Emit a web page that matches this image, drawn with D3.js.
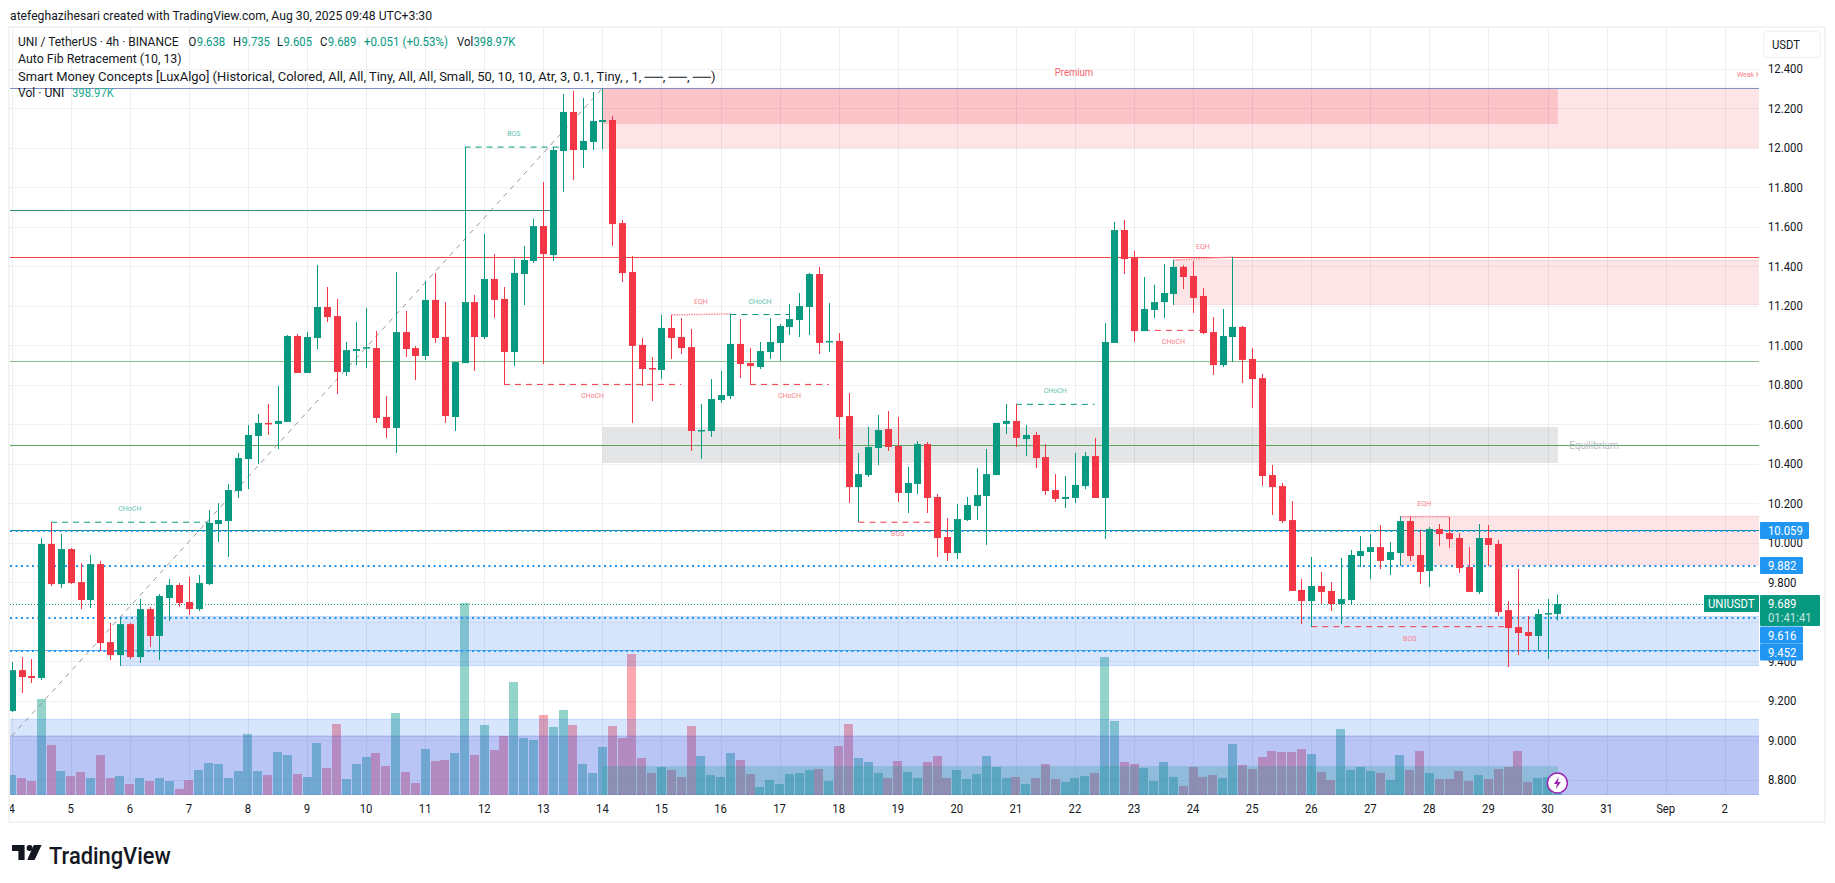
<!DOCTYPE html>
<html>
<head>
<meta charset="utf-8">
<title>UNI / TetherUS 4h</title>
<script src="https://cdnjs.cloudflare.com/ajax/libs/d3/7.8.5/d3.min.js"></script>
<style>
html,body{margin:0;padding:0;background:#fff;overflow:hidden}
svg{display:block}
text{font-family:Roboto,"Noto Sans",sans-serif;fill:#131722}
</style>
</head>
<body>
<script>
// 4h candles, oldest first (4 Aug 00:00 is index 0; six bars per day)
const opens=[9.147,9.354,9.324,9.314,9.993,9.790,9.967,9.800,9.709,9.891,
9.496,9.430,9.587,9.420,9.663,9.527,9.719,9.785,9.699,9.663,
9.790,10.094,10.109,10.261,10.423,10.540,10.606,10.601,10.611,11.046,
10.859,11.036,11.193,11.147,10.864,10.970,10.985,10.985,10.636,10.580,
11.066,10.985,10.945,11.229,11.041,10.636,10.909,11.218,11.041,11.335,
11.234,10.965,11.360,11.426,11.603,11.456,11.983,12.181,11.988,12.029,
12.130,12.140,11.618,11.370,11.001,10.884,10.874,11.087,11.041,10.990,
10.565,10.565,10.722,10.742,11.006,10.909,10.889,10.965,11.011,11.092,
11.127,11.193,11.360,11.016,11.021,10.641,10.281,10.342,10.479,10.575,
10.489,10.251,10.297,10.499,10.231,10.028,9.947,10.114,10.185,10.236,
10.342,10.601,10.616,10.524,10.545,10.433,10.266,10.221,10.226,10.286,
10.438,10.226,11.011,11.583,11.441,11.071,11.178,11.218,11.259,11.396,
11.350,11.249,11.066,10.899,11.041,11.092,10.930,10.833,10.342,10.286,
10.114,9.760,9.704,9.780,9.755,9.689,9.709,9.932,9.952,9.977,
9.912,9.947,10.109,9.937,9.856,10.069,10.048,10.023,9.876,9.750,
10.023,9.993,9.658,9.572,9.547,9.527,9.638,9.638];
const highs=[9.395,9.420,9.410,10.023,10.104,10.043,9.972,9.896,9.937,9.907,
9.593,9.618,9.593,9.714,9.674,9.739,9.815,9.795,9.826,9.836,
10.165,10.200,10.297,10.454,10.595,10.651,10.702,10.793,11.051,11.056,
11.066,11.406,11.294,11.234,11.016,11.117,11.188,11.071,10.742,11.370,
11.173,10.995,11.325,11.365,11.218,10.914,12.003,11.254,11.563,11.461,
11.294,11.436,11.502,11.639,11.826,12.003,12.272,12.287,12.252,12.282,
12.302,12.160,11.634,11.451,11.036,10.940,11.153,11.153,11.137,11.082,
10.702,10.828,10.869,11.158,11.132,10.985,11.016,11.137,11.107,11.208,
11.264,11.365,11.396,11.213,11.061,10.757,10.454,10.585,10.646,10.666,
10.636,10.383,10.514,10.509,10.246,10.124,10.195,10.231,10.378,10.474,
10.606,10.702,10.702,10.595,10.560,10.499,10.347,10.337,10.454,10.459,
10.530,11.112,11.624,11.634,11.477,11.345,11.305,11.411,11.431,11.406,
11.426,11.289,11.142,11.183,11.446,11.097,10.985,10.854,10.393,10.302,
10.210,9.815,9.927,9.851,9.800,9.922,9.962,10.033,10.043,10.089,
10.003,10.134,10.134,10.064,10.079,10.094,10.129,10.048,9.977,10.094,
10.089,10.013,9.704,9.866,9.628,9.663,9.714,9.735];
const lows=[9.142,9.238,9.289,9.304,9.780,9.770,9.790,9.663,9.668,9.451,
9.405,9.375,9.410,9.390,9.471,9.405,9.603,9.674,9.633,9.653,
9.785,10.003,9.927,10.226,10.271,10.398,10.545,10.474,10.611,10.859,
10.859,10.980,11.117,10.752,10.844,10.899,10.884,10.606,10.530,10.454,
10.940,10.823,10.925,11.011,10.606,10.565,10.909,10.869,11.031,11.137,
10.803,10.894,11.203,11.416,10.904,11.426,11.776,11.836,11.897,11.988,
11.993,11.502,11.320,10.606,10.793,10.717,10.828,10.930,10.955,10.464,
10.423,10.535,10.707,10.727,10.833,10.798,10.879,10.930,10.920,11.051,
11.041,11.051,10.955,10.965,10.524,10.200,10.104,10.332,10.393,10.464,
10.205,10.150,10.246,10.150,9.927,9.907,9.917,10.109,10.114,9.988,
10.342,10.550,10.484,10.438,10.378,10.241,10.205,10.175,10.200,10.271,
10.226,10.018,11.011,11.360,11.016,11.071,11.137,11.137,11.203,11.284,
11.163,11.056,10.849,10.889,10.914,10.808,10.682,10.286,10.140,10.099,
9.755,9.587,9.572,9.689,9.653,9.587,9.684,9.876,9.815,9.866,
9.836,9.881,9.907,9.790,9.775,9.982,9.972,9.846,9.750,9.739,
9.881,9.628,9.370,9.430,9.451,9.451,9.410,9.605];
const closes=[9.354,9.319,9.314,9.993,9.790,9.967,9.795,9.709,9.891,9.491,
9.430,9.587,9.420,9.663,9.527,9.729,9.785,9.694,9.663,9.795,
10.099,10.114,10.266,10.428,10.545,10.606,10.601,10.616,11.046,10.859,
11.041,11.193,11.142,10.864,10.975,10.980,10.990,10.631,10.580,11.066,
10.980,10.945,11.229,11.036,10.641,10.914,11.218,11.041,11.335,11.229,
10.965,11.365,11.431,11.603,11.461,11.988,12.181,11.988,12.034,12.135,
12.140,11.613,11.365,10.996,10.879,10.879,11.087,11.036,10.985,10.565,
10.570,10.727,10.747,11.006,10.904,10.894,10.970,11.016,11.097,11.132,
11.198,11.360,11.011,11.021,10.636,10.281,10.347,10.484,10.570,10.484,
10.251,10.302,10.499,10.226,10.023,9.947,10.119,10.190,10.241,10.347,
10.606,10.616,10.530,10.545,10.428,10.261,10.221,10.231,10.292,10.438,
10.226,11.016,11.583,11.436,11.071,11.183,11.218,11.264,11.396,11.345,
11.239,11.061,10.899,11.046,11.092,10.925,10.828,10.337,10.281,10.109,
9.755,9.704,9.780,9.750,9.689,9.714,9.937,9.957,9.977,9.907,
9.952,10.109,9.932,9.851,10.069,10.043,10.018,9.871,9.750,10.023,
9.988,9.648,9.567,9.542,9.527,9.638,9.643,9.689];
// Volume per bar, thousands of UNI
const volumes=[440,374,308,2112,1100,528,418,506,374,880,
374,418,242,374,308,374,308,132,330,550,
704,682,374,528,1342,528,440,946,880,462,
396,1144,594,1562,352,682,836,924,638,1804,
506,264,1012,748,770,924,4224,880,1540,990,
1298,2486,1254,1210,1760,1496,1870,1540,682,484,
1056,1518,1254,3102,814,484,616,550,396,1518,
858,440,396,924,770,462,176,330,242,462,
484,550,572,308,1078,1562,814,726,484,374,
748,506,374,726,858,374,550,352,462,858,
616,374,396,242,374,682,352,286,374,418,
484,3036,1628,726,682,594,308,726,396,198,
616,396,440,374,1122,660,572,836,968,946,
946,1012,902,506,330,1452,550,616,528,484,
330,880,550,968,484,352,352,528,308,440,
352,572,616,968,286,374,396,398.97];

const priceTicks=[12.4,12.2,12.0,11.8,11.6,11.4,11.2,11.0,10.8,10.6,10.4,10.2,10.0,9.8,9.6,9.4,9.2,9.0,8.8];
const hiddenPriceLabels=[9.6];
const dayLabels=["4","5","6","7","8","9","10","11","12","13","14","15","16","17","18","19","20","21","22","23","24","25","26","27","28","29","30","31","Sep","2"];
const barsPerDay=6;

// Horizontal levels: solid retracement lines and dotted price lines
const solidLevels=[
  {price:12.301,kind:"top"},{price:11.686,kind:"teal"},{price:11.448,kind:"red"},
  {price:10.918,kind:"paleGreen"},{price:10.492,kind:"green"},
  {price:10.066,kind:"teal2"},{price:9.458,kind:"blue"}
];
const dottedLevels=[10.059,9.882,9.616,9.452];
const lastPrice=9.689;

// Zones: first bar index (null = whole width), end bar index (null = to the right edge), price range
const zones=[
  {from:60,to:null,high:12.301,low:12.0,kind:"supply"},
  {from:60,to:157,high:12.301,low:12.12,kind:"premium"},
  {from:118,to:null,high:11.431,low:11.205,kind:"supply"},
  {from:141,to:null,high:10.134,low:9.886,kind:"supply"},
  {from:60,to:157,high:10.585,low:10.403,kind:"equilibrium"},
  {from:11,to:null,high:9.625,low:9.376,kind:"demand"},
  {from:null,to:null,high:9.105,low:8.72,kind:"demand"},
  {from:null,to:null,high:9.02,low:8.72,kind:"demandDeep"},
  {from:60,to:157,high:8.868,low:8.72,kind:"discount"}
];

// Market structure breaks
const structure=[
  {from:4,to:20,p0:10.103,p1:10.103,tag:"CHoCH",side:"up"},
  {from:46,to:56,p0:12.003,p1:12.003,tag:"BOS",side:"up"},
  {from:50,to:68,p0:10.801,p1:10.801,tag:"CHoCH",side:"down"},
  {from:75,to:83,p0:10.801,p1:10.801,tag:"CHoCH",side:"down"},
  {from:67,to:73,p0:11.153,p1:11.158,tag:"EQH",side:"eq"},
  {from:73,to:79,p0:11.155,p1:11.155,tag:"CHoCH",side:"up"},
  {from:86,to:94,p0:10.103,p1:10.103,tag:"BOS",side:"down"},
  {from:102,to:110,p0:10.700,p1:10.700,tag:"CHoCH",side:"up"},
  {from:118,to:124,p0:11.431,p1:11.446,tag:"EQH",side:"eq"},
  {from:115,to:121,p0:11.075,p1:11.075,tag:"CHoCH",side:"down"},
  {from:141,to:146,p0:10.131,p1:10.131,tag:"EQH",side:"eq"},
  {from:132,to:152,p0:9.574,p1:9.574,tag:"BOS",side:"down"}
];
const fibStart={index:0,price:9.02};
const fibEnd={index:60,price:12.301};

const W=1835,H=883;
const paneL=10,paneR=1759,paneT=28,paneB=795,frameRight=1825,frameBottom=822;
const UP="#089981",DOWN="#f23645",DOT="#2196f3";

const svg=d3.select("body").append("svg").attr("width",W).attr("height",H);
svg.append("defs").append("clipPath").attr("id","pane")
  .append("rect").attr("x",paneL).attr("y",paneT).attr("width",paneR-paneL).attr("height",paneB-paneT);
svg.append("defs").append("clipPath").attr("id","timeaxis")
  .append("rect").attr("x",paneL).attr("y",paneB).attr("width",paneR-paneL).attr("height",frameBottom-paneB);

const x=d3.scaleLinear().domain([0,177.48]).range([11.7,paneR]);
const y=d3.scaleLinear().domain([8.8,12.4]).range([779.5,68.7]);
const v=d3.scaleLinear().domain([0,4224]).range([paneB,603]);
const px=n=>Math.round(n)+0.5;

// Condensed text: the available sans faces run wider than the platform font
function label(parent,px0,py,str,o={}){
  const t=parent.append("text").attr("x",px0).attr("y",py)
    .attr("font-size",o.size||13).attr("dominant-baseline","central")
    .style("fill",o.fill||"#131722").text(str);
  if(o.weight)t.attr("font-weight",o.weight);
  if(o.opacity)t.attr("opacity",o.opacity);
  if(o.anchor)t.attr("text-anchor",o.anchor);
  const w=t.node().getComputedTextLength();
  t.attr("textLength",w*(o.squeeze||0.87)).attr("lengthAdjust","spacingAndGlyphs");
  return t;
}

// Outer frame
svg.append("rect").attr("x",9).attr("y",27).attr("width",frameRight-9).attr("height",frameBottom-27)
  .attr("fill","#fff").attr("stroke","#f3f3f3").attr("stroke-width",2);

const pane=svg.append("g").attr("clip-path","url(#pane)");

// Grid
pane.append("g").selectAll("line").data(priceTicks).join("line")
  .attr("x1",paneL).attr("x2",paneR).attr("y1",d=>px(y(d))).attr("y2",d=>px(y(d)))
  .attr("stroke","#f1f1f2");
pane.append("g").selectAll("line").data(dayLabels).join("line")
  .attr("x1",(d,i)=>px(x(i*barsPerDay))).attr("x2",(d,i)=>px(x(i*barsPerDay)))
  .attr("y1",paneT).attr("y2",paneB).attr("stroke","#eeeeef");

// Volume
const idx=d3.range(opens.length);
const isUp=i=>closes[i]>=opens[i];
pane.append("g").selectAll("rect").data(idx).join("rect")
  .attr("x",i=>Math.round(x(i)-4.5)).attr("width",9)
  .attr("y",i=>v(volumes[i])).attr("height",i=>paneB-v(volumes[i]))
  .attr("fill",i=>isUp(i)?"rgba(8,153,129,.43)":"rgba(242,54,69,.43)");

// Zones
const zoneFill={supply:"rgba(242,54,69,.13)",premium:"rgba(242,54,69,.19)",equilibrium:"rgba(120,123,134,.2)",demand:"rgba(33,110,243,.18)",demandDeep:"rgba(60,70,215,.2)",discount:"rgba(8,153,129,.22)"};
const zoneEdge={supply:"rgba(242,54,69,.12)",premium:"none",equilibrium:"none",demand:"rgba(33,110,243,.2)",demandDeep:"rgba(60,70,215,.25)",discount:"none"};
const zoneG=pane.append("g");
zones.forEach(z=>{
  const x0=z.from===null?paneL:x(z.from), x1=z.to===null?paneR:x(z.to)+0.5;
  zoneG.append("rect").attr("x",x0).attr("width",x1-x0).attr("y",y(z.high)).attr("height",y(z.low)-y(z.high))
    .attr("fill",zoneFill[z.kind]);
  if(zoneEdge[z.kind]!=="none"){
    [z.high,z.low].forEach(p=>zoneG.append("line").attr("x1",x0).attr("x2",x1)
      .attr("y1",y(p)).attr("y2",y(p)).attr("stroke",zoneEdge[z.kind]));
  }
});

// Fib diagonal
pane.append("line").attr("x1",x(fibStart.index)).attr("y1",y(fibStart.price))
  .attr("x2",x(fibEnd.index)).attr("y2",y(fibEnd.price))
  .attr("stroke","#9598a1").attr("stroke-dasharray","5 5");

// Solid levels
const levelColor={top:"#8291c2",teal:"#2b8c78",red:"#f4403f",paleGreen:"#87c08a",green:"#5aa660",teal2:"#0c8f8c",blue:"#62aef2"};
const levelEnd={teal:55};
pane.append("g").selectAll("line").data(solidLevels).join("line")
  .attr("x1",paneL).attr("x2",d=>levelEnd[d.kind]?x(levelEnd[d.kind]):paneR)
  .attr("y1",d=>px(y(d.price))).attr("y2",d=>px(y(d.price)))
  .attr("stroke",d=>levelColor[d.kind]);

// Dotted levels and last price line
pane.append("g").selectAll("line").data(dottedLevels).join("line")
  .attr("x1",paneL).attr("x2",paneR).attr("y1",d=>Math.round(y(d))).attr("y2",d=>Math.round(y(d)))
  .attr("stroke",DOT).attr("stroke-width",2).attr("stroke-dasharray","2 3.5");
pane.append("line").attr("x1",paneL).attr("x2",paneR).attr("y1",px(y(lastPrice))).attr("y2",px(y(lastPrice)))
  .attr("stroke",UP).attr("stroke-dasharray","1 2");

// Structure lines and tags
const sg=pane.append("g");
structure.forEach(s=>{
  const col=s.side==="up"?UP:(s.side==="eq"?"#f6909a":DOWN);
  sg.append("line").attr("x1",x(s.from)).attr("x2",x(s.to)).attr("y1",y(s.p0)).attr("y2",y(s.p1))
    .attr("stroke",col).attr("stroke-width",s.side==="eq"?1.5:1)
    .attr("stroke-dasharray",s.side==="eq"?"1.5 1":"6 5");
  const off=s.side==="down"?12:-13;
  const mid=(s.from+s.to)/2;
  label(sg,x(mid),y(s.p0)+off,s.tag,{size:7,anchor:"middle",fill:s.side==="up"?"#5fbfae":"#f77f88",squeeze:1});
});

// Candles
const cg=pane.append("g");
cg.selectAll("line").data(idx).join("line")
  .attr("x1",i=>px(x(i))).attr("x2",i=>px(x(i)))
  .attr("y1",i=>y(highs[i])).attr("y2",i=>y(lows[i]))
  .attr("stroke",i=>isUp(i)?UP:DOWN);
cg.selectAll("rect").data(idx).join("rect")
  .attr("x",i=>Math.round(x(i))-3).attr("width",7)
  .attr("y",i=>y(Math.max(opens[i],closes[i])))
  .attr("height",i=>Math.max(1.5,Math.abs(y(opens[i])-y(closes[i]))))
  .attr("fill",i=>isUp(i)?UP:DOWN);

// Zone captions
label(pane,1074,72.5,"Premium",{size:10,anchor:"middle",fill:"#f4606c",squeeze:.95});
label(pane,1737,75,"Weak High",{size:7,fill:"#f77f88",squeeze:1});
label(pane,1594,445.7,"Equilibrium",{size:10.5,anchor:"middle",fill:"#b7bac2",squeeze:.95});

// Alert marker on the last bar
const bolt=svg.append("g").attr("transform",`translate(${x(157)},${783})`);
bolt.append("circle").attr("r",10).attr("fill","#fff").attr("stroke","#9c27b0").attr("stroke-width",1.5);
bolt.append("path").attr("d","M1.5,-6 L-3.5,1 L-0.5,1 L-1.5,6 L3.5,-1 L0.5,-1 Z").attr("fill","#9c27b0");

// Price axis
const axisX=1768;
priceTicks.filter(d=>!hiddenPriceLabels.includes(d)).forEach(d=>{
  label(svg,axisX,y(d),d3.format(".3f")(d));
});

// Price tags
const blueTag=(p,xr,cy)=>{
  svg.append("rect").attr("x",1760).attr("y",cy-8.5).attr("width",xr-1760).attr("height",17).attr("rx",1).attr("fill",DOT);
  label(svg,axisX,cy,d3.format(".3f")(p),{fill:"#fff"});
};
blueTag(9.616,1803,635);
blueTag(9.452,1803,652);
blueTag(10.059,1809,530.5);
blueTag(9.882,1803,565.5);
svg.append("rect").attr("x",1704).attr("y",595).attr("width",55).attr("height",17).attr("fill",UP);
label(svg,1708,603.7,"UNIUSDT",{fill:"#fff"});
svg.append("rect").attr("x",1760).attr("y",595).attr("width",60).attr("height",31).attr("rx",1).attr("fill",UP);
label(svg,axisX,603.7,d3.format(".3f")(lastPrice),{fill:"#fff"});
label(svg,axisX,617.6,"01:41:41",{fill:"#fff",opacity:.75});

// Currency button
svg.append("rect").attr("x",1763.5).attr("y",31.5).attr("width",57).attr("height",26).attr("rx",4)
  .attr("fill","#fff").attr("stroke","#f0f3fa").attr("stroke-width",1.5);
label(svg,1772,44.5,"USDT");

// Time axis
const timeG=svg.append("g").attr("clip-path","url(#timeaxis)");
dayLabels.forEach((d,i)=>{
  label(timeG,x(i*barsPerDay),808.7,d,{anchor:"middle"});
});

// Header and legend
label(svg,10,15,"atefeghazihesari created with TradingView.com, Aug 30, 2025 09:48 UTC+3:30",{squeeze:.937});
label(svg,18,41.7,"UNI / TetherUS · 4h · BINANCE",{squeeze:.92});
[["O",188.5,"9.638"],["H",233,"9.735"],["L",277,"9.605"],["C",320,"9.689"]].forEach(([k,lx,val])=>{
  const t=label(svg,lx,41.7,k);
  label(svg,lx+t.node().getComputedTextLength()+0.5,41.7,val,{fill:UP});
});
label(svg,364,41.7,"+0.051 (+0.53%)",{fill:UP,squeeze:.89});
label(svg,457,41.7,"Vol");
label(svg,473.5,41.7,"398.97K",{fill:UP});
label(svg,18,58.7,"Auto Fib Retracement (10, 13)",{squeeze:.95});
label(svg,18,76,"Smart Money Concepts [LuxAlgo] (Historical, Colored, All, All, Tiny, All, All, Small, 50, 10, 10, Atr, 3, 0.1, Tiny, , 1, ──, ──, ──)",{squeeze:.995});
label(svg,18,92.7,"Vol · UNI",{squeeze:.93});
label(svg,72,92.7,"398.97K",{fill:"#22ab94"});

// Wordmark
const logo=svg.append("g").attr("fill","#131722");
logo.append("path").attr("d","M12,845 H24.6 V860 H18.4 V851 H12 Z");
logo.append("circle").attr("cx",29.6).attr("cy",848).attr("r",3);
logo.append("path").attr("d","M33.8,845 H41.6 L34.6,860 H27.2 Z");
label(svg,49,856,"TradingView",{size:23,weight:500,squeeze:.95});
</script>
</body>
</html>
